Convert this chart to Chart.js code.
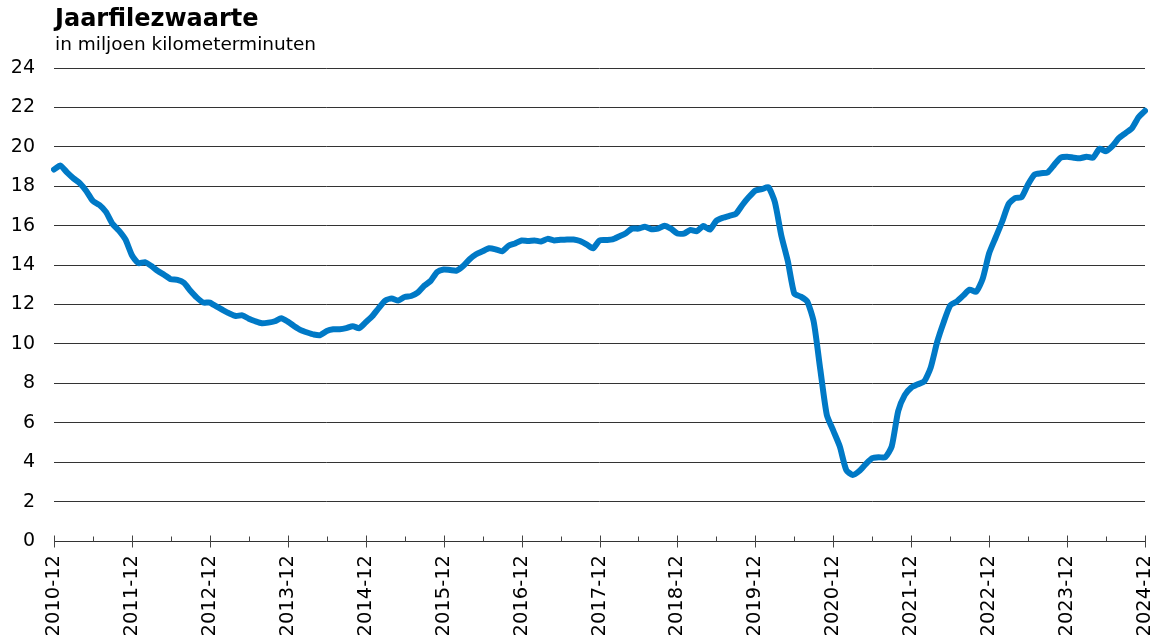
<!DOCTYPE html>
<html>
<head>
<meta charset="utf-8">
<script src="https://cdn.jsdelivr.net/npm/chart.js@4/dist/chart.umd.min.js"></script>
<style>
  html, body { margin: 0; padding: 0; background: #fff; }
  #wrap { position: relative; width: 1167px; height: 641px; }
  #title { position: absolute; left: 55px; top: 4px; font: bold 24px "DejaVu Sans", sans-serif; color: #000; }
  #subtitle { position: absolute; left: 55px; top: 33px; font: 18.5px "DejaVu Sans", sans-serif; color: #000; }
  canvas { position: absolute; left: 0; top: 0; }
</style>
</head>
<body>
<div id="wrap">
  <canvas id="c" width="1167" height="641"></canvas>
  <div id="title">Jaarfilezwaarte</div>
  <div id="subtitle">in miljoen kilometerminuten</div>
</div>
<script>
// First month of the series
const startYear = 2010;
const startMonth = 12;
// Year tick labels (every December)
const tickLabels = ['2010-12','2011-12','2012-12','2013-12','2014-12','2015-12','2016-12',
  '2017-12','2018-12','2019-12','2020-12','2021-12','2022-12','2023-12','2024-12'];
// Jaarfilezwaarte, million kilometre-minutes, monthly from 2010-12 to 2024-12
const filezwaarte = [
  18.85, 19.05, 18.7, 18.4, 18.15, 17.75, 17.25, 17.05, 16.7, 16.1, 15.75, 15.3,
  14.5, 14.1, 14.15, 13.95, 13.7, 13.5, 13.28, 13.25, 13.1, 12.7, 12.35, 12.1,
  12.1, 11.9, 11.72, 11.55, 11.42, 11.45, 11.28, 11.15, 11.05, 11.08, 11.15, 11.3,
  11.13, 10.9, 10.7, 10.58, 10.48, 10.45, 10.65, 10.74, 10.74, 10.8, 10.9, 10.8,
  11.1, 11.4, 11.82, 12.2, 12.3, 12.2, 12.38, 12.43, 12.6, 12.95, 13.2, 13.65,
  13.78, 13.75, 13.72, 13.95, 14.3, 14.55, 14.7, 14.85, 14.8, 14.7, 14.98, 15.1,
  15.25, 15.22, 15.25, 15.2, 15.33, 15.25, 15.28, 15.3, 15.3, 15.22, 15.05, 14.85,
  15.25, 15.27, 15.3, 15.45, 15.6, 15.85, 15.85, 15.95, 15.82, 15.85, 16.0, 15.85,
  15.6, 15.6, 15.78, 15.72, 15.98, 15.8, 16.25, 16.4, 16.5, 16.6, 17.05, 17.45,
  17.78, 17.85, 17.95, 17.2, 15.5, 14.2, 12.55, 12.4, 12.15, 11.1, 8.7, 6.4,
  5.6, 4.8, 3.6, 3.35, 3.55, 3.9, 4.2, 4.25, 4.25, 4.8, 6.6, 7.4,
  7.78, 7.95, 8.1, 8.8, 10.1, 11.1, 11.95, 12.15, 12.45, 12.75, 12.65, 13.3,
  14.6, 15.4, 16.2, 17.1, 17.4, 17.45, 18.1, 18.6, 18.66, 18.7, 19.08, 19.45,
  19.5, 19.45, 19.42, 19.5, 19.45, 19.9, 19.78, 20.05, 20.45, 20.7, 20.95, 21.5,
  21.83
];

const months = [];
for (let i = 0; i < filezwaarte.length; i++) {
  const t = (startYear * 12 + (startMonth - 1)) + i;
  const y = Math.floor(t / 12), m = (t % 12) + 1;
  months.push(y + '-' + String(m).padStart(2, '0'));
}

const tickMarks = {
  id: 'tickMarks',
  afterDraw(chart) {
    const xs = chart.scales.x, ys = chart.scales.y;
    const ctx = chart.ctx;
    const y0 = Math.round(ys.getPixelForValue(0)) + 0.5;
    ctx.save();
    ctx.strokeStyle = '#444';
    ctx.lineWidth = 1;
    for (let i = 0; i < months.length; i += 6) {
      const x = Math.round(xs.getPixelForValue(i)) + 0.5;
      const major = i % 12 === 0;
      ctx.beginPath();
      ctx.moveTo(x, major ? y0 - 6 : y0 - 5);
      ctx.lineTo(x, major ? y0 + 6 : y0);
      ctx.stroke();
    }
    ctx.restore();
  }
};

new Chart(document.getElementById('c'), {
  type: 'line',
  data: {
    labels: months,
    datasets: [{
      data: filezwaarte,
      borderColor: '#0079c6',
      borderWidth: 6,
      pointRadius: 0,
      tension: 0.2,
      borderCapStyle: 'round',
      borderJoinStyle: 'round',
      fill: false
    }]
  },
  options: {
    responsive: false,
    animation: false,
    devicePixelRatio: 1,
    layout: { padding: { top: 68, right: 22, left: 0, bottom: 0 } },
    plugins: { legend: { display: false }, tooltip: { enabled: false }, title: { display: false } },
    scales: {
      x: {
        type: 'category',
        offset: false,
        afterFit(s) { s.height = 100; s.paddingLeft = 0; s.paddingRight = 0; },
        grid: { display: false, drawTicks: false },
        border: { display: false },
        ticks: {
          autoSkip: false,
          minRotation: 90,
          maxRotation: 90,
          padding: 14,
          color: '#000',
          font: { family: '"DejaVu Sans", sans-serif', size: 19.5 },
          callback(v, i) { return i % 12 === 0 ? tickLabels[i / 12] : ''; }
        }
      },
      y: {
        min: 0,
        max: 24,
        afterFit(s) { s.width = 54; },
        grid: { color: '#333', lineWidth: 1, drawTicks: false },
        border: { display: false },
        ticks: {
          stepSize: 2,
          padding: 19,
          color: '#000',
          font: { family: '"DejaVu Sans", sans-serif', size: 19 }
        }
      }
    }
  },
  plugins: [tickMarks]
});
</script>
</body>
</html>
